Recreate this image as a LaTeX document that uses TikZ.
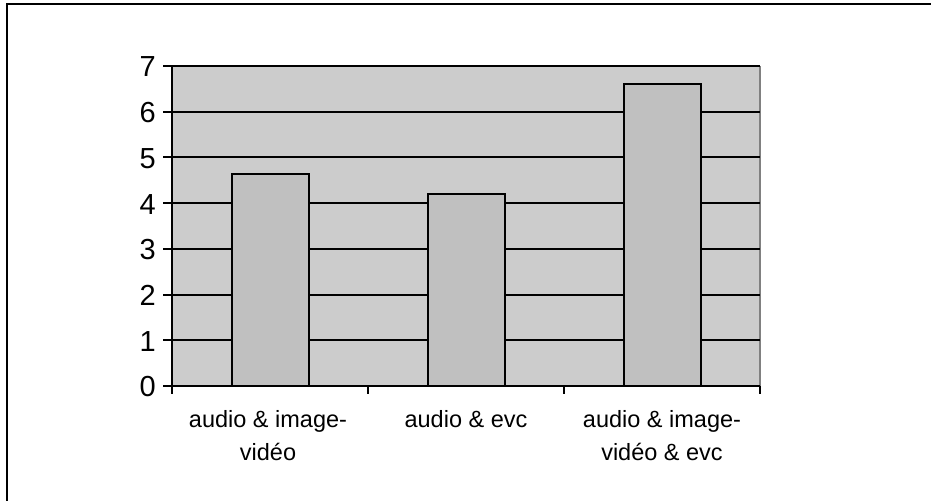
\documentclass[tikz,border=0pt]{standalone}
\usepackage{fontspec}
\setmainfont{Liberation Sans}
\definecolor{plotbg}{gray}{0.8}
\definecolor{barfill}{gray}{0.753}
\definecolor{edgegray}{gray}{0.5}
\begin{document}
\begin{tikzpicture}[x=1pt,y=-1pt,
  grid/.style={line width=2pt,black},
  barbox/.style={fill=barfill,draw=black,line width=2pt},
  ylab/.style={anchor=east,inner sep=0pt,font=\fontsize{29}{31}\selectfont},
  xlab/.style={anchor=north,inner sep=0pt,align=center,font=\fontsize{23.5}{33}\selectfont},
  frame/.style={line width=2pt,black}]
\useasboundingbox (0,0) rectangle (931,501);
% outer frame (only top and left visible)
\draw[frame] (6,4) -- (931,4);
\draw[frame] (7,3) -- (7,501);
% plot area
\pgfmathsetmacro{\unit}{(386-66)/7}
\fill[plotbg] (172,66) rectangle (760,386);
\draw[edgegray,line width=1.5pt] (760,66) -- (760,386);
\foreach \v in {1,...,7}{
  \draw[grid] (163,{386-\v*\unit}) -- (760,{386-\v*\unit});
}
% bars
\foreach \c/\val in {0/4.63,1/4.2,2/6.6}{
  \pgfmathsetmacro{\xc}{270+196*\c}
  \draw[barbox] ({\xc-38.5},386) rectangle ({\xc+38.5},{386-\val*\unit});
}
% axes
\draw[grid] (163,386) -- (760,386);
\draw[grid] (172,66) -- (172,394);
\foreach \x in {368,564,760}{
  \draw[grid] (\x,386) -- (\x,394);
}
% y labels
\foreach \v in {0,...,7}{
  \node[ylab] (y\v) at (156,{387-\v*\unit}) {\v};
}
% x labels
\node[xlab] (c1) at (268,410) {audio \& image-\\vidéo};
\node[xlab] (c2) at (466,410) {audio \& evc};
\node[xlab] (c3) at (662,410) {audio \& image-\\vidéo \& evc};
\end{tikzpicture}
\end{document}
